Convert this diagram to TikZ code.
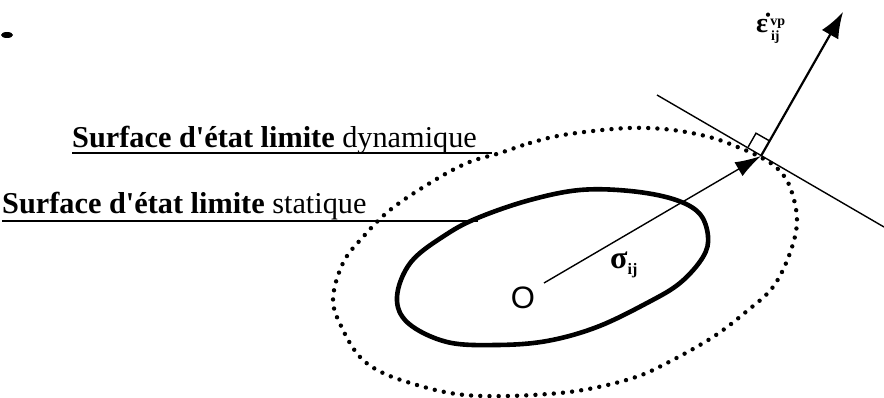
\documentclass[tikz,border=0pt]{standalone}
\usepackage{fontspec}
\setmainfont{Liberation Serif}
\newfontfamily\arialfont{Liberation Sans}
\usetikzlibrary{arrows.meta,calc}
\tikzset{
  lbl/.style={inner sep=0pt, anchor=base west, font=\fontsize{30.3}{31}\selectfont},
  leader/.style={line width=1.4pt},
  staticsurf/.style={line width=4.6pt, line join=round},
  dynsurf/.style={line width=4.4pt, line cap=round, dash pattern=on 0pt off 9.2pt},
  thinarrow/.style={line width=1.4pt, -{Latex[length=26pt,width=16pt]}},
  normarrow/.style={line width=2.2pt, -{Latex[length=26pt,width=19pt]}},
  tangentline/.style={line width=1.4pt},
}
\begin{document}
\begin{tikzpicture}[x=1pt,y=-1pt]
\useasboundingbox (0,0) rectangle (884,398);
% scan blob
\fill (7,35) ellipse [x radius=6pt, y radius=3pt];
% labels
\node[lbl] (dyn) at (72,148) {\textbf{Surface d\textquotesingle état limite} dynamique};
\node[lbl] (stat) at (2,214) {\textbf{Surface d\textquotesingle état limite} statique};
\coordinate (dynu) at (72,153);
\coordinate (dynend) at (492,153);
\coordinate (statu) at (2,221);
\coordinate (statend) at (478,221);
\draw[leader] (dynu) -- (dynend);
\draw[leader] (statu) -- (statend);
% static surface (solid)
\draw[staticsurf] plot[smooth cycle, tension=0.6] coordinates {
 (397,297) (411,262) (447,234) (480,217) (530,200) (580,190) (630,191) (673,199)
 (699,213) (708,236) (703,257) (680,283) (647,303) (597,327) (547,341)
 (497,345) (447,342) (408,323)};
% dynamic surface (dotted)
\draw[dynsurf] plot[smooth cycle, tension=0.6] coordinates {
 (500,153) (530,143) (563,135) (613,129) (647,128) (680,131) (713,138) (740,148)
 (760,157) (777,168) (790,187) (797,220) (790,253) (773,287) (747,311) (713,337)
 (667,363) (633,378) (583,390) (533,395) (483,396) (450,393) (417,385) (383,373)
 (360,357) (343,330) (333,300) (343,263) (363,237) (390,210) (430,183) (467,163)};
% points
\coordinate (P) at (761,156);
\coordinate (sstart) at (544,283);
\coordinate (tip) at (843,12);
\coordinate (T1) at (657,95);
\coordinate (T2) at (884,227);
% tangent line
\draw[tangentline] (T1) -- (T2);
% sigma arrow
\draw[thinarrow] (sstart) -- (P);
% normal arrow
\draw[normarrow] (P) -- (tip);
% right angle marker
\draw[line width=1.4pt] (748.1,147.1) -- (756.0,133.2) -- (769.9,141.1);
% O label
\node[inner sep=0pt, font=\arialfont\fontsize{31}{31}\selectfont] (O) at (523,298) {O};
% sigma label
\node[inner sep=0pt, anchor=base west] (sig) at (610,269)
 {\fontsize{32}{32}\selectfont\textbf{σ}\raisebox{-6pt}{\fontsize{16}{16}\selectfont\textbf{ij}}};
% epsilon label
\node[inner sep=0pt, anchor=base west] (eps) at (756,33)
 {\fontsize{28}{28}\selectfont\textbf{\.{ε}}\raisebox{7pt}{\fontsize{14}{14}\selectfont\textbf{vp}}\hspace{-14pt}\raisebox{-8pt}{\fontsize{14}{14}\selectfont\textbf{ij}}};
\end{tikzpicture}
\end{document}
